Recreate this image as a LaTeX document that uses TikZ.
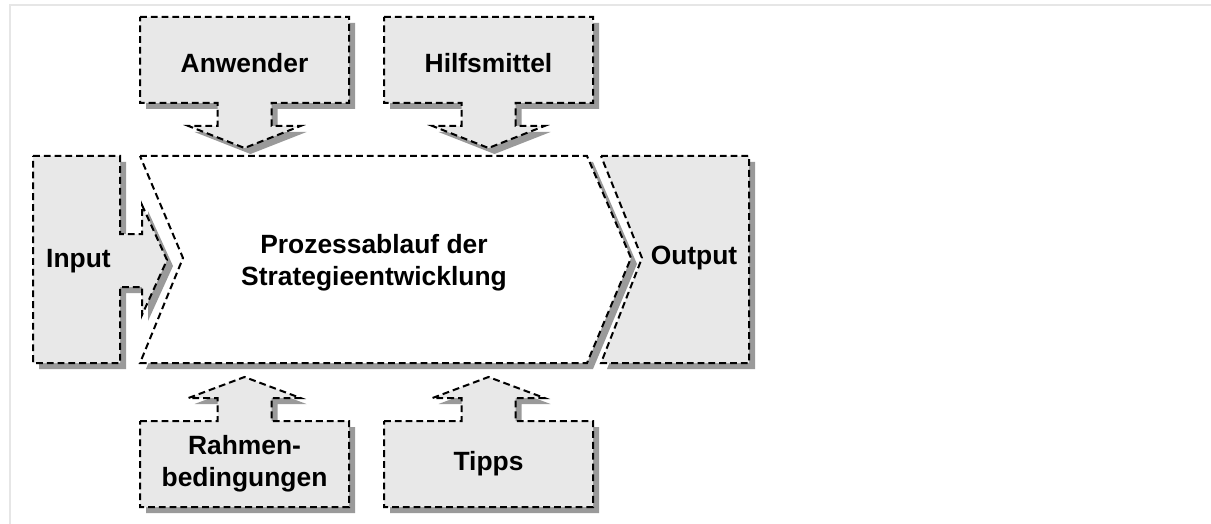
\documentclass[tikz,border=0pt]{standalone}
\usepackage{fontspec}
\setmainfont{Liberation Sans}

\definecolor{boxgray}{HTML}{E8E8E8}
\definecolor{shadegray}{HTML}{9A9A9A}
\definecolor{framegray}{HTML}{E6E6E6}

\begin{document}
\begin{tikzpicture}[x=0.5pt,y=-0.5pt,
    block/.style={draw=black, line width=1pt, dash pattern=on 3.4pt off 2pt,
        fill=boxgray, line join=miter,
        preaction={fill=shadegray, transform canvas={xshift=3pt,yshift=-3pt}}},
    lbl/.style={font=\fontsize{13.2}{16}\selectfont\bfseries, align=center}]
    \useasboundingbox (0,0) rectangle (1211,524);
    \draw[framegray, line width=1pt] (10,524) -- (10,5) -- (1211,5);

    % process chevron
    \path[block, fill=white]
        (140,156) -- (587,156) -- (631,258) -- (587,363) -- (140,363) -- (183,258) -- cycle;
    \node[lbl] (prozess) at (374,263) {Prozessablauf der\\Strategieentwicklung};

    % input and output
    \path[block]
        (33,156) -- (120,156) -- (120,234) -- (142,234) -- (142,205) -- (167,260)
        -- (142,315) -- (142,287) -- (120,287) -- (120,363) -- (33,363) -- cycle;
    \node[lbl] (input) at (78.5,261.5) {Input};
    \path[block]
        (601,156) -- (749,156) -- (749,363) -- (601,363) -- (642,258) -- cycle;
    \node[lbl] (output) at (694,258.5) {Output};

    % boxes above
    \foreach \cx/\nm/\txt in {244.5/anwender/Anwender, 488.5/hilfsmittel/Hilfsmittel}{
        \begin{scope}[shift={(\cx,0)}]
            \path[block] (-104.5,17) -- (104.5,17) -- (104.5,103) -- (27,103) -- (27,126)
                -- (56,126) -- (0,148) -- (-56,126) -- (-27,126) -- (-27,103) -- (-104.5,103) -- cycle;
            \node[lbl] (\nm) at (0,63) {\txt};
        \end{scope}
    }

    % boxes below
    \foreach \cx/\nm/\txt in {244.5/rahmen/{Rahmen-\\bedingungen}, 488.5/tipps/Tipps}{
        \begin{scope}[shift={(\cx,0)}]
            \path[block] (-104.5,421) -- (-27,421) -- (-27,398) -- (-56,398) -- (0,377)
                -- (56,398) -- (27,398) -- (27,421) -- (104.5,421) -- (104.5,507) -- (-104.5,507) -- cycle;
            \node[lbl] (\nm) at (0,464) {\txt};
        \end{scope}
    }
\end{tikzpicture}
\end{document}
